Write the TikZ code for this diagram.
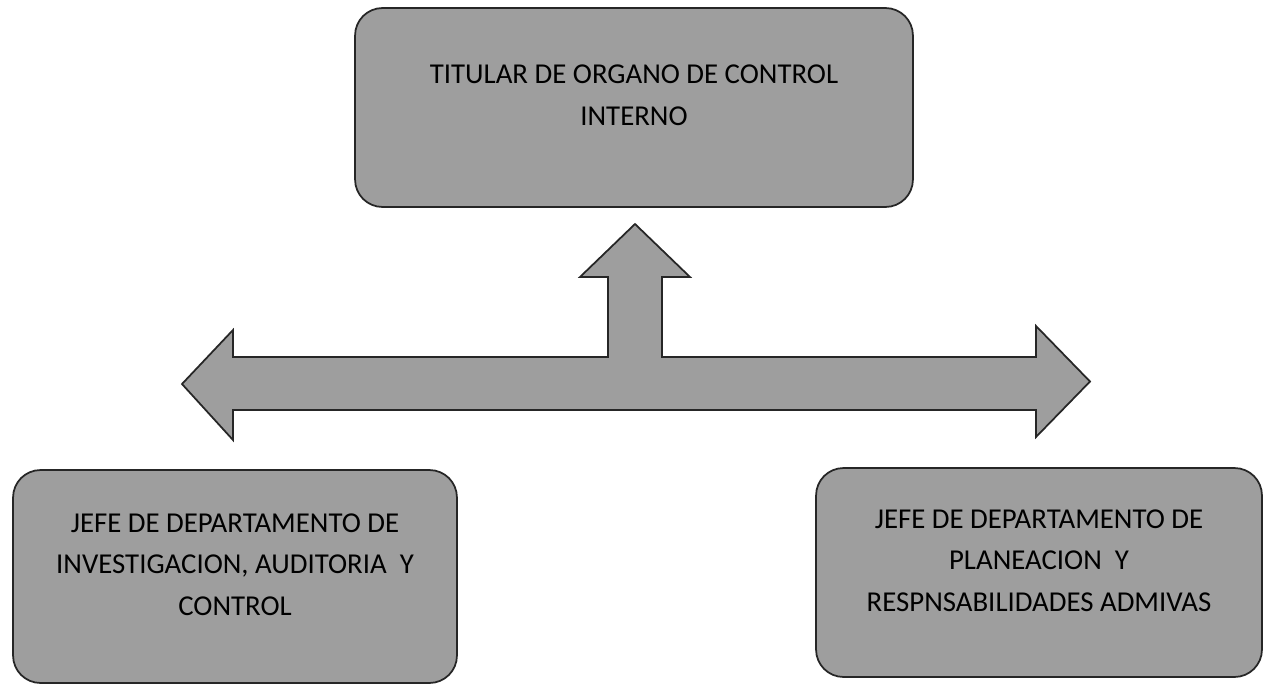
\documentclass[tikz,border=0pt]{standalone}
\usepackage{fontspec}
\setmainfont{Carlito}
\definecolor{gris}{gray}{0.62}
\begin{document}
\begin{tikzpicture}[x=0.02cm, y=-0.02cm, line cap=round, line join=round,
	font=\fontsize{16.4}{23.8}\selectfont,
	caja/.style={draw=black!85, line width=1pt, fill=gris, rounded corners=0.55cm, align=center, inner sep=0pt,
		execute at end node={\rule[-0.48cm]{0pt}{0pt}}}]
	\useasboundingbox (0,0) rectangle (1264,687);
	\node[caja, minimum width=11.16cm, minimum height=3.98cm] (titular) at (634,107.5) {TITULAR DE ORGANO DE CONTROL\\INTERNO};
	\node[caja, minimum width=8.88cm, minimum height=4.26cm] (investigacion) at (235,576.5) {JEFE DE DEPARTAMENTO DE\\INVESTIGACION, AUDITORIA\ \ Y\\CONTROL};
	\node[caja, minimum width=8.92cm, minimum height=4.18cm] (planeacion) at (1039,572.5) {JEFE DE DEPARTAMENTO DE\\PLANEACION\ \ Y\\RESPNSABILIDADES ADMIVAS};
	\draw[draw=black!85, line width=1pt, fill=gris, line join=miter] (182,384)--(233,330)--(233,357)--(608,357)--(608,277)--(580,277)--(635,224)--(690,277)--(662,277)--(662,357)--(1036,357)--(1036,326)--(1090,381.5)--(1036,437)--(1036,410)--(233,410)--(233,440)--cycle;
\end{tikzpicture}
\end{document}
